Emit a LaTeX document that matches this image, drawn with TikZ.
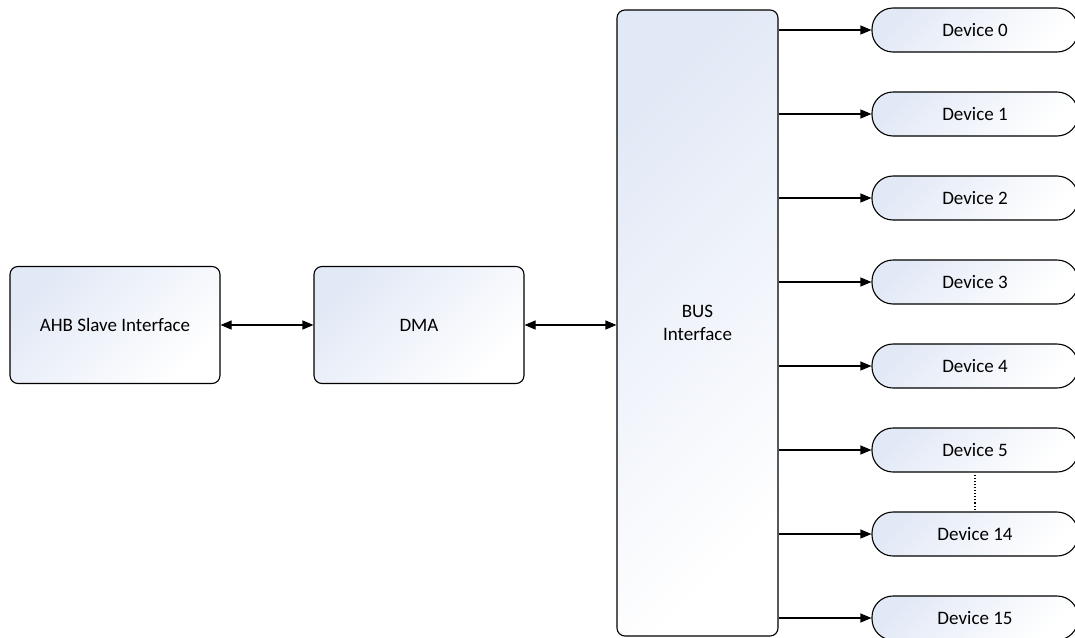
\documentclass[tikz,border=0pt]{standalone}
\usepackage{fontspec}
\setmainfont{Carlito}
\usetikzlibrary{arrows.meta}

\definecolor{boxfill}{RGB}{226,233,246}

\tikzset{
	block/.style={draw, line width=1.1pt, rounded corners=8pt, top color=boxfill, bottom color=white, shading angle=45, font=\fontsize{19}{23}\selectfont},
	device/.style={draw, line width=1.1pt, rounded corners=21pt, minimum width=206pt, minimum height=44pt, top color=boxfill, bottom color=white, shading angle=45, font=\fontsize{19}{23}\selectfont},
	link/.style={line width=1.1pt, -{Triangle[length=11pt,width=9pt]}},
	dlink/.style={line width=1.1pt, {Triangle[length=11pt,width=9pt]}-{Triangle[length=11pt,width=9pt]}}
}

\begin{document}
\begin{tikzpicture}[x=1pt, y=-1pt]
	\useasboundingbox (0,0) rectangle (1075,637);
	\clip (0,0) rectangle (1075,637);

	\node[block, minimum width=210pt, minimum height=117pt] (ahb) at (115,325) {AHB Slave Interface};
	\node[block, minimum width=210pt, minimum height=117pt] (dma) at (419,325) {DMA};
	\node[block, minimum width=161pt, minimum height=626pt, align=center] (bus) at (697.5,323) {BUS\\Interface};

	\node[device] (dev0) at (975,30) {Device 0};
	\node[device] (dev1) at (975,114) {Device 1};
	\node[device] (dev2) at (975,198) {Device 2};
	\node[device] (dev3) at (975,282) {Device 3};
	\node[device] (dev4) at (975,366) {Device 4};
	\node[device] (dev5) at (975,450) {Device 5};
	\node[device] (dev14) at (975,534) {Device 14};
	\node[device] (dev15) at (975,618) {Device 15};

	\draw [dlink] (ahb) -- (dma);
	\draw [dlink] (dma.east) -- (dma.east -| bus.west);

	\draw [link] (bus.east |- dev0) -- (dev0.west);
	\draw [link] (bus.east |- dev1) -- (dev1.west);
	\draw [link] (bus.east |- dev2) -- (dev2.west);
	\draw [link] (bus.east |- dev3) -- (dev3.west);
	\draw [link] (bus.east |- dev4) -- (dev4.west);
	\draw [link] (bus.east |- dev5) -- (dev5.west);
	\draw [link] (bus.east |- dev14) -- (dev14.west);
	\draw [link] (bus.east |- dev15) -- (dev15.west);

	\draw [dotted, line width=1.1pt] ([yshift=-2pt]dev5.south) -- ([yshift=2pt]dev14.north);
\end{tikzpicture}
\end{document}
